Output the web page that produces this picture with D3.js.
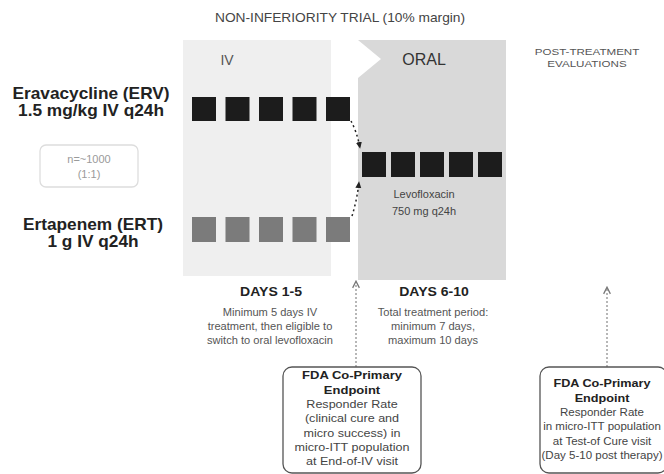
<!DOCTYPE html>
<html><head><meta charset="utf-8">
<script src="https://cdn.jsdelivr.net/npm/d3@7"></script>
<style>body{margin:0;background:#fff}svg{display:block;font-family:"Liberation Sans",Arial,sans-serif}</style>
</head><body>
<svg id="c" width="664" height="474"></svg>
<script>
const title = "NON-INFERIORITY TRIAL (10% margin)";
const ivDays = [1, 2, 3, 4, 5];
const oralDays = [6, 7, 8, 9, 10];
const arms = ["Eravacycline (ERV)", "Ertapenem (ERT)"];
const armDoses = ["1.5 mg/kg IV q24h", "1 g IV q24h"];
const phaseLabels = ["IV", "ORAL"];
const oralDrug = ["Levofloxacin", "750 mg q24h"];
const periodTitles = ["DAYS 1-5", "DAYS 6-10"];
const periodNotes = [
  ["Minimum 5 days IV", "treatment, then eligible to", "switch to oral levofloxacin"],
  ["Total treatment period:", "minimum 7 days,", "maximum 10 days"]
];
const endpointTitle = ["FDA Co-Primary", "Endpoint"];
const endpoint1 = ["Responder Rate", "(clinical cure and", "micro success) in", "micro-ITT population", "at End-of-IV visit"];
const endpoint2 = ["Responder Rate", "in micro-ITT population", "at Test-of Cure visit", "(Day 5-10 post therapy)"];
const sampleSize = ["n=~1000", "(1:1)"];
const postLabel = ["POST-TREATMENT", "EVALUATIONS"];

const svg = d3.select("#c");
const defs = svg.append("defs");
defs.append("marker").attr("id","ah").attr("viewBox","0 0 10 10").attr("refX",8).attr("refY",5)
  .attr("markerWidth",5).attr("markerHeight",5).attr("orient","auto")
  .append("path").attr("d","M0,1 L9,5 L0,9 z").attr("fill","#222");
defs.append("marker").attr("id","ah2").attr("viewBox","0 0 10 10").attr("refX",8).attr("refY",5)
  .attr("markerWidth",7).attr("markerHeight",7).attr("orient","auto")
  .append("path").attr("d","M1,1 L9,5 L1,9").attr("fill","none").attr("stroke","#777").attr("stroke-width",1.5);

function txt(g, x, y, s, size, sx, opts = {}) {
  return g.append("text")
    .attr("transform", `translate(${x},${y}) scale(${sx},1)`)
    .attr("text-anchor", opts.anchor || "middle")
    .attr("font-size", size)
    .attr("font-weight", opts.bold ? "bold" : "normal")
    .attr("fill", opts.fill || "#444")
    .text(s);
}

const xIV = d3.scaleLinear().domain([1,5]).range([192,326]);
const xOral = d3.scaleLinear().domain([6,10]).range([362,478]);
const sqW = 24;

svg.append("rect").attr("x",183).attr("y",40).attr("width",148).attr("height",236).attr("fill","#efefef");
svg.append("path").attr("d","M358,40 L506,40 L506,280 L358,280 L358,78 L381,59 Z").attr("fill","#d9d9d9");

txt(svg, 340, 22, title, 12.5, 1.1, {fill:"#444"});
txt(svg, 227, 65, phaseLabels[0], 14, 1.0, {fill:"#555"});
txt(svg, 424, 65, phaseLabels[1], 16, 1.0, {fill:"#333"});
postLabel.forEach((d,i)=>txt(svg, 587, 55+i*12, d, 9.5, 1.22, {fill:"#555"}));

const armY = [99, 230];
const armX = [91, 93];
arms.forEach((a,i)=>{
  txt(svg, armX[i], armY[i], a, 16, 1.08, {bold:true, fill:"#222"});
  txt(svg, armX[i], armY[i]+17, armDoses[i], 16, 1.08, {bold:true, fill:"#222"});
});
svg.append("rect").attr("x",40).attr("y",145).attr("width",98).attr("height",42).attr("rx",6)
  .attr("fill","#fff").attr("stroke","#ddd").attr("stroke-width",1.3);
sampleSize.forEach((d,i)=>txt(svg, 89, 163+i*15, d, 11, 1.0, {fill:"#9a9a9a"}));

svg.selectAll(".erv").data(ivDays).join("rect").attr("class","erv").attr("x",d=>xIV(d)).attr("y",97).attr("width",sqW).attr("height",24).attr("fill","#1c1c1c");
svg.selectAll(".ert").data(ivDays).join("rect").attr("class","ert").attr("x",d=>xIV(d)).attr("y",217).attr("width",sqW).attr("height",25).attr("fill","#7b7b7b");
svg.selectAll(".oral").data(oralDays).join("rect").attr("class","oral").attr("x",d=>xOral(d)).attr("y",152).attr("width",sqW).attr("height",25).attr("fill","#1c1c1c");

oralDrug.forEach((d,i)=>txt(svg, 424, 198+i*17, d, 11, 1.0, {fill:"#444"}));

svg.append("path").attr("d","M351,121 Q357,132 360,148").attr("fill","none").attr("stroke","#222").attr("stroke-width",1.5)
  .attr("stroke-dasharray","2,3").attr("marker-end","url(#ah)");
svg.append("path").attr("d","M352,216 Q357,200 359,182").attr("fill","none").attr("stroke","#222").attr("stroke-width",1.5)
  .attr("stroke-dasharray","2,3").attr("marker-end","url(#ah)");

const perX = [271, 434];
periodTitles.forEach((t,i)=>{
  txt(svg, perX[i], 296, t, 13, 1.08, {bold:true, fill:"#222"});
  periodNotes[i].forEach((d,j)=>txt(svg, perX[i]-1, 316+j*14, d, 10.5, 1.06, {fill:"#555"}));
});

svg.append("line").attr("x1",356).attr("y1",367).attr("x2",356).attr("y2",282).attr("stroke","#888").attr("stroke-width",1.2)
  .attr("stroke-dasharray","2,2").attr("marker-end","url(#ah2)");
svg.append("line").attr("x1",607).attr("y1",367).attr("x2",607).attr("y2",288).attr("stroke","#888").attr("stroke-width",1.2)
  .attr("stroke-dasharray","2,2").attr("marker-end","url(#ah2)");

function box(x,y,w,h,lines,ty,cx,sxT,sxL){
  svg.append("rect").attr("x",x).attr("y",y).attr("width",w).attr("height",h).attr("rx",9)
    .attr("fill","#fff").attr("stroke","#555").attr("stroke-width",1.3);
  endpointTitle.forEach((t,i)=>txt(svg, cx, ty+i*14.5, t, 11.5, sxT, {bold:true, fill:"#222"}));
  lines.forEach((l,i)=>txt(svg, cx, ty+29+i*14.3, l, 10.3, sxL, {fill:"#444"}));
}
box(283,367,138,106,endpoint1,379,352,1.13,1.22);
box(540,367,127,106,endpoint2,387,602,1.1,1.12);
</script>
</body></html>
